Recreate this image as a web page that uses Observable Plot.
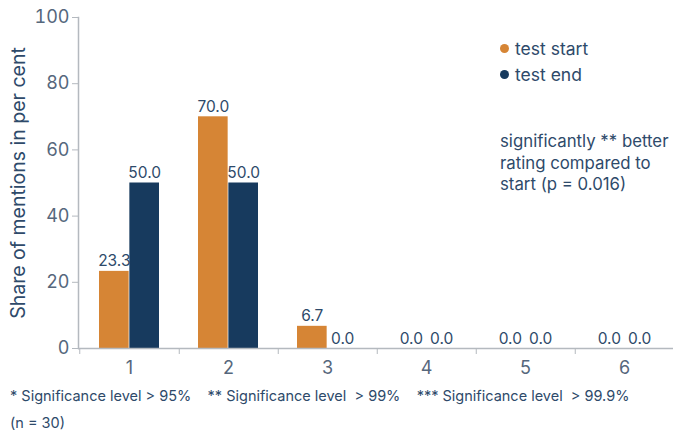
<!DOCTYPE html>
<html>
<head>
<meta charset="utf-8">
<script src="https://cdn.jsdelivr.net/npm/d3@7"></script>
<script src="https://cdn.jsdelivr.net/npm/@observablehq/plot@0.6"></script>
<style>
  body { margin: 0; background: #fff; font-family: Inter, "Open Sans", sans-serif; }
  #wrap { position: relative; width: 673px; height: 430px; overflow: hidden; }
  .note { position: absolute; color: #2e4a6a; font-size: 14.5px; white-space: pre; }
  .leg { position: absolute; color: #2e4a6a; font-size: 17.5px; white-space: nowrap; }
  .dot { display: inline-block; width: 9px; height: 9px; border-radius: 50%; margin-right: 6px; vertical-align: 2px; }
</style>
</head>
<body>
<div id="wrap"></div>
<script>
const categories = ["1", "2", "3", "4", "5", "6"];
const seriesNames = ["test start", "test end"];
const startValues = [23.3, 70.0, 6.7, 0.0, 0.0, 0.0];
const endValues = [50.0, 50.0, 0.0, 0.0, 0.0, 0.0];
const yTicks = [0, 20, 40, 60, 80, 100];
const colors = ["#d68535", "#173a5e"];

const startData = categories.map((c, i) => ({cat: c, series: seriesNames[0], value: startValues[i]}));
const endData = categories.map((c, i) => ({cat: c, series: seriesNames[1], value: endValues[i]}));

const textColor = "#2e4a6a";
const axisColor = "#b4b9bf";

const W = 673, ML = 78, MR = -2;
const step = (W - ML - MR) / categories.length;
const pad = 0.39;
const bw = step * (1 - pad);

const chart = Plot.plot({
  width: W,
  height: 385,
  marginTop: 17,
  marginBottom: 37,
  marginLeft: ML,
  marginRight: MR,
  style: {fontFamily: "Inter, 'Open Sans', sans-serif", background: "transparent", overflow: "visible"},
  x: {domain: categories, paddingInner: pad, paddingOuter: pad / 2, label: null},
  y: {domain: [0, 100], label: null},
  color: {domain: seriesNames, range: colors},
  marks: [
    Plot.barY(startData, {x: "cat", y: "value", fill: "series", insetRight: bw / 2}),
    Plot.barY(endData, {x: "cat", y: "value", fill: "series", insetLeft: bw / 2}),
    Plot.text(startData, {x: "cat", y: "value", text: d => d.value.toFixed(1),
      dx: -bw / 4, dy: -5, lineAnchor: "bottom", fill: textColor, fontSize: 15.5}),
    Plot.text(endData, {x: "cat", y: "value", text: d => d.value.toFixed(1),
      dx: bw / 4, dy: -5, lineAnchor: "bottom", fill: textColor, fontSize: 15.5}),
    Plot.ruleY([0], {stroke: axisColor, strokeWidth: 1.5, insetRight: -10}),
    Plot.frame({anchor: "left", stroke: axisColor, strokeWidth: 1.5}),
    Plot.axisY(yTicks, {tickSize: 6, tickPadding: 3, stroke: axisColor, fill: "#56677c",
      fontSize: 18, tickFormat: d => d}),
    Plot.axisX({anchor: "bottom", tickSize: 0, tickPadding: 13, fontSize: 18, fill: "#56677c", label: null}),
    Plot.axisX({anchor: "bottom", tickSize: 6, tickFormat: () => "", stroke: axisColor, dx: step / 2, label: null}),
    Plot.axisX(["1"], {anchor: "bottom", tickSize: 6, tickFormat: () => "", stroke: axisColor, dx: -step / 2, label: null}),
    Plot.text(["Share of mentions in per cent"], {frameAnchor: "left", textAnchor: "middle", dx: -60, rotate: -90,
      fill: textColor, fontSize: 19.5})
  ]
});

const wrap = document.getElementById("wrap");
chart.style.position = "absolute";
chart.style.left = "0px";
chart.style.top = "0px";
wrap.appendChild(chart);

function addDiv(cls, top, left, html) {
  const d = document.createElement("div");
  d.className = cls;
  d.style.top = top + "px";
  d.style.left = left + "px";
  d.innerHTML = html;
  wrap.appendChild(d);
  return d;
}
seriesNames.forEach((s, i) => {
  addDiv("leg", 38 + i * 26, 500, `<span class="dot" style="background:${colors[i]}"></span>${s}`);
});
const ann = addDiv("leg", 131, 500, "significantly ** better<br>rating compared to<br>start (p = 0.016)");
ann.style.lineHeight = "21.7px";
ann.style.fontSize = "16.8px";
addDiv("note", 387, 10, "* Significance level &gt; 95%    ** Significance level  &gt; 99%    *** Significance level  &gt; 99.9%");
addDiv("note", 414, 10, "(n = 30)");
</script>
</body>
</html>
